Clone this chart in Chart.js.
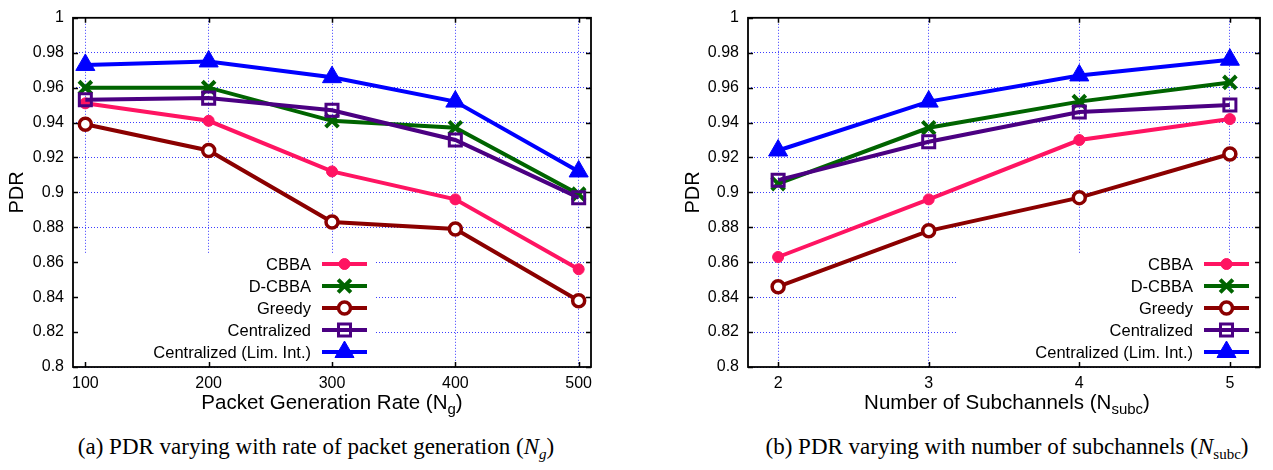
<!DOCTYPE html>
<html>
<head>
<meta charset="utf-8">
<script src="https://cdn.jsdelivr.net/npm/chart.js@4.4.1/dist/chart.umd.min.js"></script>
<style>
  body { margin: 0; width: 1273px; height: 470px; position: relative; background: #fff; overflow: hidden; }
  .wrap { position: absolute; top: 0; }
  .xtitle { position: absolute; text-align: center; font-family: "Liberation Sans", Arial, sans-serif;
            font-size: 20.5px; line-height: 24px; color: #000; white-space: nowrap; }
  .xtitle sub { font-size: 15px; vertical-align: -5px; line-height: 0; }
  .caption { position: absolute; text-align: center; font-family: "Liberation Serif", "Times New Roman", serif;
             font-size: 23px; line-height: 28px; color: #000; white-space: nowrap; }
  .caption sub { font-size: 15px; vertical-align: -5px; line-height: 0; }
</style>
</head>
<body>
<div class="wrap" style="left:0; width:636px; height:400px;"><canvas id="chartA" width="636" height="400"></canvas></div>
<div class="wrap" style="left:670px; width:603px; height:400px;"><canvas id="chartB" width="603" height="400"></canvas></div>

<div class="xtitle" style="left:132px; width:400px; top:390px;">Packet Generation Rate (N<sub>g</sub>)</div>
<div class="xtitle" style="left:807px; width:400px; top:390px;">Number of Subchannels (N<sub>subc</sub>)</div>

<div class="caption" style="left:16px; width:600px; top:433px;">(a) PDR varying with rate of packet generation (<i>N<sub>g</sub></i>)</div>
<div class="caption" style="left:707px; width:600px; top:433px;">(b) PDR varying with number of subchannels (<i>N</i><sub>subc</sub>)</div>

<script>
// --- data ---
const seriesNames = ['CBBA', 'D-CBBA', 'Greedy', 'Centralized', 'Centralized (Lim. Int.)'];
const pdrTicks = [0.8, 0.82, 0.84, 0.86, 0.88, 0.9, 0.92, 0.94, 0.96, 0.98, 1];

// (a) packet generation rate
const rateTicks = [100, 200, 300, 400, 500];
const cbbaRate = [0.951, 0.941, 0.912, 0.896, 0.856];
const dcbbaRate = [0.960, 0.960, 0.941, 0.937, 0.899];
const greedyRate = [0.939, 0.924, 0.883, 0.879, 0.838];
const centralRate = [0.953, 0.954, 0.947, 0.930, 0.897];
const limIntRate = [0.973, 0.975, 0.966, 0.952, 0.912];

// (b) number of subchannels
const subcTicks = [2, 3, 4, 5];
const cbbaSubc = [0.863, 0.896, 0.930, 0.942];
const dcbbaSubc = [0.905, 0.937, 0.952, 0.963];
const greedySubc = [0.846, 0.878, 0.897, 0.922];
const centralSubc = [0.907, 0.929, 0.946, 0.950];
const limIntSubc = [0.924, 0.952, 0.967, 0.976];

// --- styles (gnuplot look) ---
const FONT = '"Liberation Sans", Arial, sans-serif';
const GRID = '#3c3cff';
const styles = [
    { color: '#ff1462', pointStyle: 'circle', radius: 5.5, bw: 1, fill: '#ff1462' },
    { color: '#006400', pointStyle: 'crossRot', radius: 9, bw: 4, fill: '#006400' },
    { color: '#8b0000', pointStyle: 'circle', radius: 6, bw: 3.5, fill: '#ffffff' },
    { color: '#4b0082', pointStyle: 'rect', radius: 8.5, bw: 3, fill: 'rgba(0,0,0,0)' },
    { color: '#0000ff', pointStyle: 'triangle', radius: 11, bw: 1, fill: '#0000ff' }
];

function makeDatasets(xs, seriesList) {
    return seriesList.map((ys, i) => {
        const s = styles[i];
        return {
            label: seriesNames[i],
            data: xs.map((x, j) => ({ x: x, y: ys[j] })),
            borderColor: s.color,
            backgroundColor: s.color,
            borderWidth: 4,
            pointStyle: s.pointStyle,
            pointRadius: s.radius,
            pointBorderWidth: s.bw,
            pointBorderColor: s.color,
            pointBackgroundColor: s.fill,
            tension: 0,
            order: seriesList.length - 1 - i
        };
    });
}

// gnuplot style key + frame + mirrored ticks
const gnuKey = {
    id: 'gnuKey',
    beforeDatasetsDraw(chart, args, opts) {
        const a = chart.chartArea, ctx = chart.ctx;
        const right = a.left + opts.sampleRight + 9;
        const left = Math.max(a.left, right - 300);
        ctx.save();
        ctx.fillStyle = '#fff';
        ctx.fillRect(left, a.bottom - 114, right - left, 114);
        ctx.restore();
    },
    afterDatasetsDraw(chart, args, opts) {
        const a = chart.chartArea, ctx = chart.ctx;
        const sr = a.left + opts.sampleRight;
        chart.data.datasets.forEach((ds, i) => {
            const s = styles[i];
            const y = a.bottom - 103 + i * 22;
            ctx.save();
            ctx.font = '16.5px ' + FONT;
            ctx.fillStyle = '#000';
            ctx.textAlign = 'right';
            ctx.textBaseline = 'middle';
            ctx.fillText(ds.label, sr - 56, y + 1);
            ctx.strokeStyle = s.color;
            ctx.lineWidth = 4;
            ctx.beginPath();
            ctx.moveTo(sr - 45, y);
            ctx.lineTo(sr, y);
            ctx.stroke();
            ctx.fillStyle = s.fill;
            ctx.lineWidth = s.bw;
            Chart.helpers.drawPoint(ctx, { pointStyle: s.pointStyle, radius: s.radius, borderWidth: s.bw, rotation: 0 }, sr - 22.5, y);
            ctx.restore();
        });
    },
    afterDraw(chart) {
        const a = chart.chartArea, ctx = chart.ctx;
        const xs = chart.scales.x, ys = chart.scales.y;
        ctx.save();
        ctx.strokeStyle = '#000';
        ctx.lineWidth = 1.5;
        ctx.beginPath();
        xs.ticks.forEach(t => {
            const px = Math.round(xs.getPixelForValue(t.value)) + 0.5;
            ctx.moveTo(px, a.bottom); ctx.lineTo(px, a.bottom - 5);
            ctx.moveTo(px, a.top); ctx.lineTo(px, a.top + 5);
        });
        ys.ticks.forEach(t => {
            const py = Math.round(ys.getPixelForValue(t.value)) + 0.5;
            ctx.moveTo(a.left, py); ctx.lineTo(a.left + 5, py);
            ctx.moveTo(a.right, py); ctx.lineTo(a.right - 5, py);
        });
        ctx.stroke();
        ctx.lineWidth = 1.8;
        ctx.strokeRect(a.left, a.top, a.right - a.left, a.bottom - a.top);
        ctx.restore();
    }
};

function makeChart(id, xs, seriesList, xMin, xMax, yAxisWidth, padRight, titlePad, sampleRight) {
    return new Chart(document.getElementById(id), {
        type: 'line',
        data: { datasets: makeDatasets(xs, seriesList) },
        plugins: [gnuKey],
        options: {
            responsive: false,
            animation: false,
            layout: { padding: { top: 9, right: padRight, bottom: 0, left: 0 } },
            plugins: {
                legend: { display: false },
                tooltip: { enabled: false },
                gnuKey: { sampleRight: sampleRight }
            },
            scales: {
                x: {
                    type: 'linear',
                    min: xMin,
                    max: xMax,
                    afterBuildTicks: s => { s.ticks = xs.map(v => ({ value: v })); },
                    afterFit: s => { s.height = 33; },
                    ticks: { color: '#000', font: { family: FONT, size: 16 }, padding: 7, maxRotation: 0 },
                    grid: { color: GRID, lineWidth: 1, drawTicks: false, tickLength: 0 },
                    border: { display: false, dash: [1, 2] }
                },
                y: {
                    min: 0.8,
                    max: 1,
                    afterBuildTicks: s => { s.ticks = pdrTicks.map(v => ({ value: v })); },
                    afterFit: s => { s.width = yAxisWidth; },
                    ticks: { color: '#000', font: { family: FONT, size: 16, lineHeight: 1.1 }, padding: 9, callback: v => String(v) },
                    grid: { color: GRID, lineWidth: 1, drawTicks: false, tickLength: 0 },
                    border: { display: false, dash: [1, 2] },
                    title: { display: true, text: 'PDR', color: '#000', font: { family: FONT, size: 20 }, padding: { top: titlePad, bottom: 0 } }
                }
            }
        }
    });
}

makeChart('chartA', rateTicks, [cbbaRate, dcbbaRate, greedyRate, centralRate, limIntRate], 90, 510, 73, 45, 5, 294);
makeChart('chartB', subcTicks, [cbbaSubc, dcbbaSubc, greedySubc, centralSubc, limIntSubc], 1.8, 5.2, 78, 7, 11, 501);
</script>
</body>
</html>
